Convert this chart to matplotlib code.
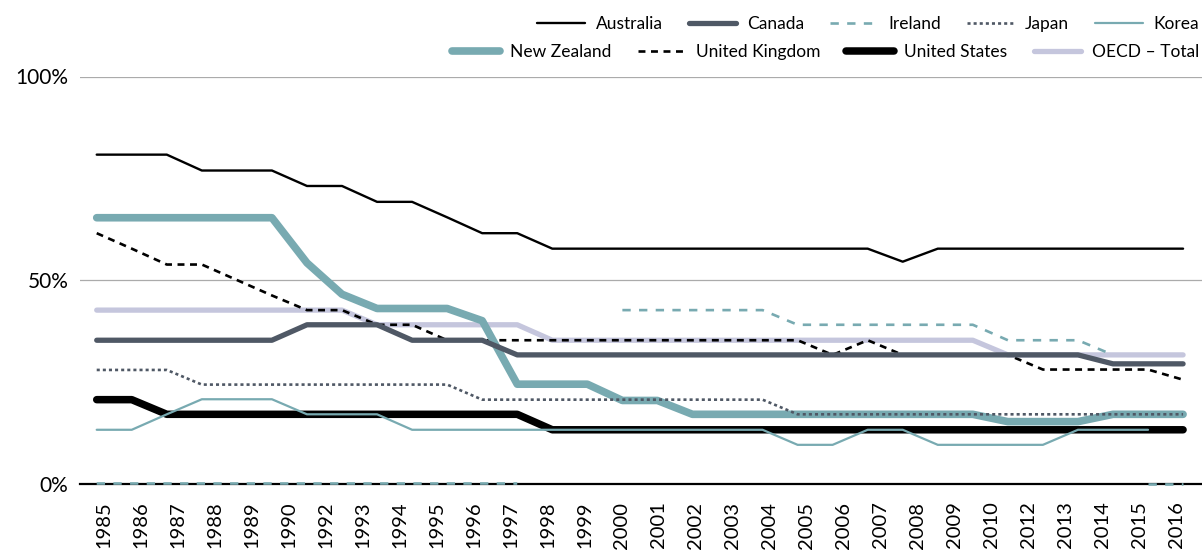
import numpy as np
import matplotlib
matplotlib.use("Agg")
import matplotlib.pyplot as plt

plt.rcParams['font.family'] = ['Lato', 'DejaVu Sans']
plt.rcParams['lines.scale_dashes'] = False

# one value per year 1985..2016 (32 points)
years = list(range(1985, 2017))
nan = np.nan

australia = [80.8, 80.8, 80.8, 76.9, 76.9, 76.9, 73.1, 73.1, 69.2, 69.2, 65.4, 61.5, 61.5,
             57.7, 57.7, 57.7, 57.7, 57.7, 57.7, 57.7, 57.7, 57.7, 57.7, 54.5,
             57.7, 57.7, 57.7, 57.7, 57.7, 57.7, 57.7, 57.7]
canada = [35.2, 35.2, 35.2, 35.2, 35.2, 35.2, 39.0, 39.0, 39.0, 35.2, 35.2, 35.2,
          31.6, 31.6, 31.6, 31.6, 31.6, 31.6, 31.6, 31.6, 31.6, 31.6, 31.6, 31.6,
          31.6, 31.6, 31.6, 31.6, 31.6, 29.4, 29.4, 29.4]
ireland = [0, 0, 0, 0, 0, 0, 0, 0, 0, 0, 0, 0, 0, nan, nan,
           42.6, 42.6, 42.6, 42.6, 42.6, 39.0, 39.0, 39.0, 39.0, 39.0, 39.0,
           35.2, 35.2, 35.2, 31.6, nan, nan]
ireland_tail = [nan] * 30 + [0, 0]
japan = [27.9, 27.9, 27.9, 24.3, 24.3, 24.3, 24.3, 24.3, 24.3, 24.3, 24.3,
         20.6, 20.6, 20.6, 20.6, 20.6, 20.6, 20.6, 20.6, 20.6,
         17.0, 17.0, 17.0, 17.0, 17.0, 17.0, 17.0, 17.0, 17.0, 17.0, 17.0, 17.0]
korea = [13.2, 13.2, 17.0, 20.7, 20.7, 20.7, 17.0, 17.0, 17.0,
         13.2, 13.2, 13.2, 13.2, 13.2, 13.2, 13.2, 13.2, 13.2, 13.2, 13.2,
         9.5, 9.5, 13.2, 13.2, 9.5, 9.5, 9.5, 9.5, 13.2, 13.2, 13.2, nan]
new_zealand = [65.3, 65.3, 65.3, 65.3, 65.3, 65.3, 54.2, 46.5, 43.0, 43.0, 43.0, 40.0,
               24.4, 24.4, 24.4, 20.4, 20.4, 17.0, 17.0, 17.0, 17.0, 17.0, 17.0, 17.0,
               17.0, 17.0, 15.2, 15.2, 15.2, 17.0, 17.0, 17.0]
united_kingdom = [61.5, 57.7, 53.8, 53.8, 50.0, 46.2, 42.6, 42.6, 39.0, 39.0,
                  35.2, 35.2, 35.2, 35.2, 35.2, 35.2, 35.2, 35.2, 35.2, 35.2, 35.2,
                  31.6, 35.2, 31.6, 31.6, 31.6, 31.6, 28.0, 28.0, 28.0, 28.0, 25.5]
united_states = [20.6, 20.6, 17.0, 17.0, 17.0, 17.0, 17.0, 17.0, 17.0, 17.0, 17.0, 17.0, 17.0,
                 13.2, 13.2, 13.2, 13.2, 13.2, 13.2, 13.2, 13.2, 13.2, 13.2, 13.2,
                 13.2, 13.2, 13.2, 13.2, 13.2, 13.2, 13.2, 13.2]
oecd_total = [42.6, 42.6, 42.6, 42.6, 42.6, 42.6, 42.6, 42.6, 39.0, 39.0, 39.0, 39.0, 39.0,
              35.2, 35.2, 35.2, 35.2, 35.2, 35.2, 35.2, 35.2, 35.2, 35.2, 35.2, 35.2, 35.2,
              31.6, 31.6, 31.6, 31.6, 31.6, 31.6]

tick_labels = ['1985', '1986', '1987', '1988', '1989', '1990', '1992', '1993', '1994', '1995',
               '1996', '1997', '1998', '1999', '2000', '2001', '2002', '2003', '2004', '2005',
               '2006', '2007', '2008', '2009', '2010', '2012', '2013', '2014', '2015', '2016']

teal = '#78aab1'
slate = '#4f5865'
lavender = '#c5c6dd'

fig = plt.figure(figsize=(12.02, 5.52), dpi=100)
ax = fig.add_axes([80 / 1202, 1 - 483.5 / 552, 1 - 80 / 1202, (483.5 - 76.5) / 552])

x = np.arange(len(years))
kw = dict(solid_capstyle='round', solid_joinstyle='round', dash_joinstyle='round')

l_oecd, = ax.plot(x, oecd_total, color=lavender, lw=3.8, zorder=3, label='OECD – Total', **kw)
l_us, = ax.plot(x, united_states, color='black', lw=5.4, zorder=4, label='United States', **kw)
l_uk, = ax.plot(x, united_kingdom, color='black', lw=1.9, dashes=(5, 4), zorder=5,
                label='United Kingdom', **kw)
l_nz, = ax.plot(x, new_zealand, color=teal, lw=5.5, zorder=6, label='New Zealand', **kw)
l_kor, = ax.plot(x, korea, color=teal, lw=1.6, zorder=7, label='Korea', **kw)
l_jap, = ax.plot(x, japan, color=slate, lw=1.9, dashes=(2.2, 2.2), zorder=8, label='Japan', **kw)
l_ire, = ax.plot(x, ireland, color=teal, lw=1.9, dashes=(6, 6), zorder=9, label='Ireland',
                 clip_on=False, **kw)
ax.plot(x, ireland_tail, color=teal, lw=1.9, dashes=(6, 6), zorder=9, clip_on=False, **kw)
l_can, = ax.plot(x, canada, color=slate, lw=3.8, zorder=10, label='Canada', **kw)
l_aus, = ax.plot(x, australia, color='black', lw=1.7, zorder=11, label='Australia', **kw)

ax.set_xlim(-0.477, 31.54)
ax.set_ylim(0, 100)
ax.set_yticks([0, 50, 100])
ax.set_yticklabels(['0%', '50%', '100%'], fontsize=15)
ax.set_xticks(np.linspace(0.2, 30.82, len(tick_labels)))
ax.set_xticklabels(tick_labels, rotation=90, fontsize=14.5)
ax.tick_params(axis='both', length=0)
ax.tick_params(axis='y', pad=8.5)
ax.tick_params(axis='x', pad=13)
ax.yaxis.grid(True, color='#ababab', lw=0.9)
ax.set_axisbelow(True)
for s in ['top', 'right', 'left']:
    ax.spines[s].set_visible(False)
ax.spines['bottom'].set_linewidth(1.6)
ax.spines['bottom'].set_color('black')

leg_kw = dict(frameon=False, fontsize=12.5, handlelength=2.75, handletextpad=0.6,
              columnspacing=1.5, borderpad=0, borderaxespad=0, loc='center right')
fig.legend(handles=[l_aus, l_can, l_ire, l_jap, l_kor], ncol=5,
           bbox_to_anchor=(1199 / 1202, 1 - 24 / 552), **leg_kw)
fig.legend(handles=[l_nz, l_uk, l_us, l_oecd], ncol=4,
           bbox_to_anchor=(1199 / 1202, 1 - 52 / 552), **leg_kw)

fig.savefig('out.png', dpi=100)
